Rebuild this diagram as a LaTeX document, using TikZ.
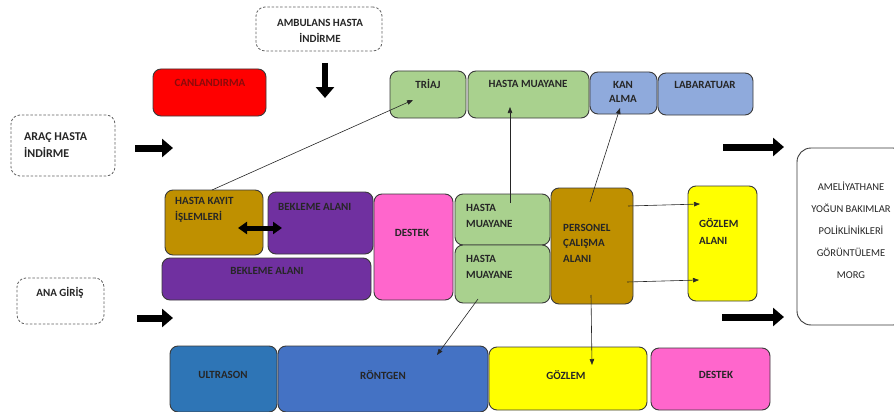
\documentclass[tikz,border=0pt]{standalone}
\usepackage{fontspec}
\setmainfont{Carlito}[BoldFont={Carlito Bold}]
\usetikzlibrary{arrows.meta,calc}
\definecolor{edge}{HTML}{3A3A3A}
\definecolor{txt}{HTML}{262626}
\definecolor{cred}{HTML}{FF0000}
\definecolor{cgreen}{HTML}{A9D18E}
\definecolor{cblue}{HTML}{8FAADC}
\definecolor{cgold}{HTML}{BF9000}
\definecolor{cpurple}{HTML}{7030A0}
\definecolor{cpink}{HTML}{FF66CC}
\definecolor{cyellow}{HTML}{FFFF00}
\definecolor{cultra}{HTML}{2E75B6}
\definecolor{cront}{HTML}{4472C4}
\definecolor{canltxt}{HTML}{8B0A0A}
\newcommand{\bx}[6]{%
  \node[roombox,fill=#6,minimum width={#4-#2},minimum height={#5-#3}] (#1) at ({(#2+#4)/2},{(#3+#5)/2}) {};}
\newcommand{\dbx}[5]{%
  \node[dashbox,minimum width={#4-#2},minimum height={#5-#3}] (#1) at ({(#2+#4)/2},{(#3+#5)/2}) {};}
\tikzset{
  roombox/.style={draw=edge,line width=0.9pt,rounded corners=8pt,inner sep=0pt,outer sep=0pt},
  dashbox/.style={draw=edge!80,line width=0.8pt,dash pattern=on 2.5pt off 1.8pt,rounded corners=9pt,inner sep=0pt,outer sep=0pt,fill=white},
  lbl/.style={font=\fontsize{11}{16}\selectfont\bfseries,text=txt,inner sep=0pt},
  thin/.style={draw=black!85,line width=0.6pt,-{Triangle[length=6pt,width=4.5pt]}},
  fat/.style={draw=black,line width=7pt,-{Triangle[length=11pt,width=18pt]}},
  fatd/.style={draw=black,line width=5pt,{Triangle[length=9pt,width=12pt]}-{Triangle[length=9pt,width=12pt]}},
}
\begin{document}
\begin{tikzpicture}[x=1pt,y=-1pt]
\useasboundingbox (0,0) rectangle (894,412);
% dashed entry boxes
\dbx{amb}{256}{7}{382}{51}
\dbx{arac}{11}{115}{115}{176}
\dbx{ana}{17}{278}{104}{324}
\node[lbl,align=center] (ambt) at (320,31) {AMBULANS HASTA\\İNDİRME};
\node[lbl,align=left,anchor=west,font=\fontsize{12}{17}\selectfont\bfseries] (aract) at (24,145) {ARAÇ HASTA\\İNDİRME};
\node[lbl] (anat) at (60,293) {ANA GİRİŞ};
% top row
\bx{canl}{153}{69}{266}{116}{cred}
\bx{triaj}{390}{71}{466}{118}{cgreen}
\bx{hmtop}{468}{71}{589}{118}{cgreen}
\bx{kan}{590}{72}{657}{114}{cblue}
\bx{lab}{658}{73}{753}{115}{cblue}
\node[lbl,text=canltxt] (canlt) at (210,83) {CANLANDIRMA};
\node[lbl] (triajt) at (428,84) {TRİAJ};
\node[lbl] (hmtopt) at (528,84) {HASTA MUAYANE};
\node[lbl,align=center,font=\fontsize{11}{14}\selectfont\bfseries] (kant) at (623,92) {KAN\\ALMA};
\node[lbl] (labt) at (705,85) {LABARATUAR};
% middle row
\bx{kayit}{165}{190}{263}{255}{cgold}
\bx{bek1}{268}{192}{373}{254}{cpurple}
\bx{bek2}{162}{258}{371}{300}{cpurple}
\bx{destek}{374}{194}{453}{300}{cpink}
\bx{hm1}{455}{194}{550}{245}{cgreen}
\bx{hm2}{455}{245}{550}{303}{cgreen}
\bx{pers}{551}{188}{633}{304}{cgold}
\bx{goza}{688}{186}{757}{301}{cyellow}
\node[lbl,align=left,anchor=west] (kayitt) at (175,210) {HASTA KAYIT\\İŞLEMLERİ};
\node[lbl,anchor=west] (bek1t) at (278,207) {BEKLEME ALANI};
\node[lbl] (bek2t) at (267,271) {BEKLEME ALANI};
\node[lbl] (destekt) at (412,233) {DESTEK};
\node[lbl,align=left,anchor=west] (hm1t) at (466,216) {HASTA\\MUAYANE};
\node[lbl,align=left,anchor=west] (hm2t) at (466,267) {HASTA\\MUAYANE};
\node[lbl,align=left,anchor=west,font=\fontsize{11}{15.5}\selectfont\bfseries] (perst) at (563,243) {PERSONEL\\ÇALIŞMA\\ALANI};
\node[lbl,align=left,anchor=west,font=\fontsize{11}{17}\selectfont\bfseries] (gozat) at (699,231.5) {GÖZLEM\\ALANI};
% bottom row
\bx{ultra}{170}{346}{277}{412}{cultra}
\bx{ront}{278}{346}{488}{412}{cront}
\bx{gozb}{489}{347}{647}{410}{cyellow}
\bx{destb}{651}{348}{770}{410}{cpink}
\node[lbl] (ultrat) at (223,375) {ULTRASON};
\node[lbl] (rontt) at (383,375) {RÖNTGEN};
\node[lbl] (gozbt) at (566,375) {GÖZLEM};
\node[lbl] (destbt) at (716,375) {DESTEK};
% exit box
\node[draw=edge,line width=0.9pt,rounded corners=14pt,fill=white,minimum width=110pt,minimum height=177pt,inner sep=0pt] (exit) at (852,236.5) {};
\node[font=\fontsize{10.5}{22}\selectfont,text=txt,align=center,inner sep=0pt] (exitt) at (851,230.5) {AMELİYATHANE\\YOĞUN BAKIMLAR\\POLİKLİNİKLERİ\\GÖRÜNTÜLEME\\MORG};
% fat arrows
\coordinate (dA) at (325,63); \coordinate (dB) at (325,98);
\coordinate (r1A) at (135,148); \coordinate (r1B) at (173,148);
\coordinate (r2A) at (137,318); \coordinate (r2B) at (173,318);
\coordinate (r3A) at (723,147); \coordinate (r3B) at (784,147);
\coordinate (r4A) at (722,317); \coordinate (r4B) at (784,317);
\draw[fat,line width=6.5pt] (dA) -- (dB);
\draw[fat] (r1A) -- (r1B);
\draw[fat] (r2A) -- (r2B);
\draw[fat] (r3A) -- (r3B);
\draw[fat] (r4A) -- (r4B);
\coordinate (dbA) at (238,228); \coordinate (dbB) at (282,228);
\draw[fatd] (dbA) -- (dbB);
% thin connectors
\draw[thin] ($(kayit.north west)+(47,0)$) -- ($(triaj.north west)+(23,29)$);
\draw[thin] ($(hm1.north west)+(55,9)$) -- ($(hmtop.north west)+(42,36)$);
\draw[thin] ($(pers.north west)+(39,14)$) -- ($(kan.north west)+(30,36)$);
\draw[thin] ($(pers.north east)+(-5,18)$) -- ($(goza.north west)+(12,18)$);
\draw[thin] ($(pers.north east)+(-6,94)$) -- ($(goza.north west)+(11,94)$);
\draw[thin] ($(pers.north west)+(40,107)$) -- ($(gozb.north west)+(103,18)$);
\draw[thin] ($(hm2.north west)+(23,54)$) -- ($(ront.north west)+(159,9)$);
\end{tikzpicture}
\end{document}
